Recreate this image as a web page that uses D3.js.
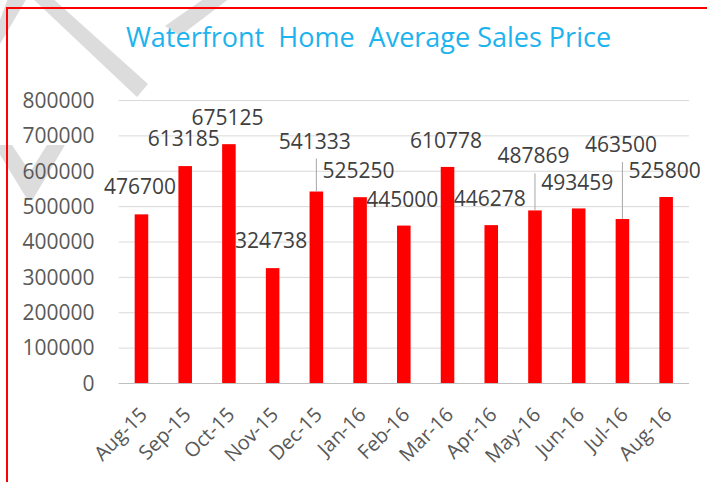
<!DOCTYPE html>
<html>
<head>
<meta charset="utf-8">
<script src="https://cdn.jsdelivr.net/npm/d3@7"></script>
<style>
  html, body { margin: 0; padding: 0; background: #ffffff; }
  svg { display: block; }
  text { font-family: "Open Sans", "Liberation Sans", sans-serif; }
</style>
</head>
<body>
<svg id="chart" width="707" height="482"></svg>
<script>
// ---- data ----
const chartTitle = "Waterfront  Home  Average Sales Price";
const months = ["Aug-15","Sep-15","Oct-15","Nov-15","Dec-15","Jan-16","Feb-16","Mar-16","Apr-16","May-16","Jun-16","Jul-16","Aug-16"];
const avgPrice = [476700, 613185, 675125, 324738, 541333, 525250, 445000, 610778, 446278, 487869, 493459, 463500, 525800];
const yTicks = [0, 100000, 200000, 300000, 400000, 500000, 600000, 700000, 800000];

// ---- layout (label lift above bar top, px) ----
const labelLift = [20, 20, 19, 20, 43, 19, 19, 19, 19, 47, 18, 67, 19];

const svg = d3.select("#chart");
const W = 707, H = 482;
const plot = { left: 119.6, right: 688, top: 100, bottom: 383 };

// watermark (decorative)
const wm = svg.append("g").attr("fill", "#d6d6d6").attr("opacity", 0.85);
[
  [[30,-4],[50,-4],[148,84],[137,97]],
  [[8,-2],[27,-2],[0,44],[0,20]],
  [[205,-2],[230,-2],[180,36],[165,26]],
  [[-6,145],[12,145],[30,172],[47,145],[65,145],[33,199],[27,199]]
].forEach(p => wm.append("path").attr("d", d3.line()(p) + "Z"));

// border
svg.append("path")
  .attr("d", `M7,${H} L7,8 L${W},8`)
  .attr("fill", "none").attr("stroke", "#ff0000").attr("stroke-width", 2);

// title
svg.append("text")
  .attr("x", 368.5).attr("y", 47)
  .attr("text-anchor", "middle")
  .attr("fill", "#1db3ee")
  .attr("font-size", 27)
  .style("white-space", "pre")
  .attr("xml:space", "preserve")
  .text(chartTitle);

const x = d3.scaleBand().domain(months).range([plot.left, plot.right]).paddingInner(0.69).paddingOuter(0.345);
const y = d3.scaleLinear().domain([0, 800000]).range([plot.bottom, plot.top]);

// gridlines
const yAxis = d3.axisLeft(y).tickValues(yTicks).tickSize(-(plot.right - plot.left + 2)).tickPadding(24).tickFormat(d3.format("d"));
const gy = svg.append("g").attr("transform", `translate(${plot.left - 1},0)`).call(yAxis);
gy.select(".domain").remove();
gy.selectAll(".tick line").attr("stroke", "#d9d9d9").attr("stroke-width", 1);
gy.selectAll(".tick text").attr("fill", "#595959").attr("font-size", 21)
  .attr("font-family", "\"Open Sans\", sans-serif").attr("dy", "0.35em");
gy.selectAll(".tick").filter(d => d === 0).select("line").attr("stroke", "#bfbfbf");

// bars
svg.append("g").selectAll("rect").data(months).join("rect")
  .attr("x", d => x(d))
  .attr("width", x.bandwidth())
  .attr("y", (d, i) => y(avgPrice[i]))
  .attr("height", (d, i) => y(0) - y(avgPrice[i]))
  .attr("fill", "#ff0000");

// leader lines
svg.append("g").selectAll("line").data(months.filter((d, i) => labelLift[i] > 30)).join("line")
  .attr("x1", d => x(d) + x.bandwidth() / 2)
  .attr("x2", d => x(d) + x.bandwidth() / 2)
  .attr("y1", d => { const i = months.indexOf(d); return y(avgPrice[i]) - labelLift[i] + 10; })
  .attr("y2", d => y(avgPrice[months.indexOf(d)]))
  .attr("stroke", "#a6a6a6").attr("stroke-width", 1);

// data labels
svg.append("g").selectAll("text").data(months).join("text")
  .attr("x", d => x(d) + x.bandwidth() / 2 - 1.5)
  .attr("y", (d, i) => y(avgPrice[i]) - labelLift[i])
  .attr("text-anchor", "middle")
  .attr("fill", "#404040")
  .attr("font-size", 21)
  .text((d, i) => avgPrice[i]);

// x axis labels
const xAxis = d3.axisBottom(x).tickSize(0).tickPadding(0);
const gx = svg.append("g").attr("transform", `translate(0,${plot.bottom})`).call(xAxis);
gx.select(".domain").remove();
gx.selectAll(".tick text")
  .attr("fill", "#595959").attr("font-size", 20)
  .attr("font-family", "\"Open Sans\", sans-serif")
  .attr("text-anchor", "end")
  .attr("y", 0).attr("dy", "0.35em")
  .attr("transform", "translate(2,28) rotate(-45)");
</script>
</body>
</html>
